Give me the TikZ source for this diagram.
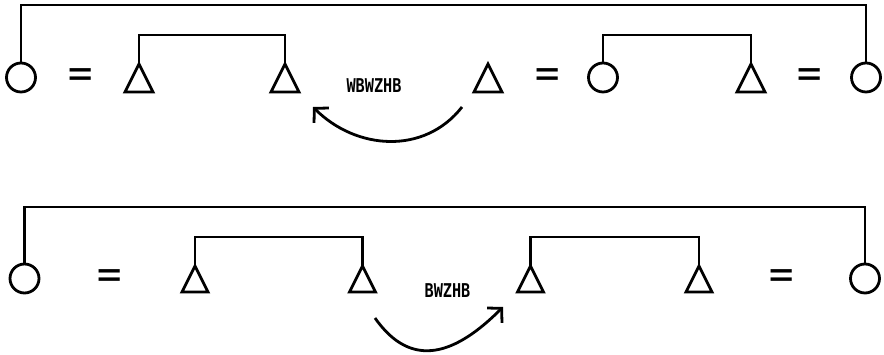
\documentclass[tikz,border=0pt]{standalone}
\usepackage{fontspec}
\usetikzlibrary{shapes.geometric,arrows.meta}
\newfontfamily\labelfont{DejaVu Sans Mono}
\newfontfamily\eqfont{DejaVu Sans}
\begin{document}
\begin{tikzpicture}[x=1pt,y=1pt,
  wire/.style={line width=2.8pt, line join=miter},
  ring/.style={draw, circle, line width=2.8pt, minimum size=29pt, inner sep=0pt, outer sep=0pt},
  tri/.style={draw, isosceles triangle, isosceles triangle apex angle=53.13,
    shape border rotate=90, line width=2.8pt, minimum width=#1, minimum height=#1,
    inner sep=0pt, outer sep=0pt, anchor=apex},
  eqsign/.style={inner sep=0pt, font=\eqfont\fontsize{26}{26}\selectfont},
  tag/.style={inner sep=0pt, font=\labelfont\bfseries\fontsize{19}{19}\selectfont},
  barb/.style={-{Straight Barb[length=10pt,width=21pt]}}
]
\useasboundingbox (0,0) rectangle (884,355);

% ---------- upper equation ----------
\node[ring] (c1) at (21,277.5) {};
\node[eqsign] (e1) at (80.5,276.5) {\scalebox{1.3}[1.6]{=}};
\node[tri=28pt] (t1) at (139,291) {};
\node[tri=28pt] (t2) at (285,291) {};
\node[tag] (l1) at (374,269.5) {\scalebox{0.8}[1]{WBWZHB}};
\node[tri=28pt] (t3) at (488,291) {};
\node[eqsign] (e2) at (547.5,276.5) {\scalebox{1.3}[1.6]{=}};
\node[ring] (c4) at (603,277.5) {};
\node[tri=28pt] (t5) at (751,291) {};
\node[eqsign] (e3) at (810,276.5) {\scalebox{1.3}[1.6]{=}};
\node[ring] (c6) at (866,277.5) {};

\coordinate (top1) at (0,350);
\coordinate (mid1) at (0,320);
\draw[wire] (c1.north) -- (c1.north |- top1) -- (c6.north |- top1) -- (c6.north);
\draw[wire] (t1.apex) -- (t1.apex |- mid1) -- (t2.apex |- mid1) -- (t2.apex);
\draw[wire] (c4.north) -- (c4.north |- mid1) -- (t5.apex |- mid1) -- (t5.apex);

\coordinate (a1s) at (462,248);
\coordinate (a1e) at (313,248);
\draw[wire, barb] (a1s) to[out=232, in=-45, looseness=1.05] (a1e);

% ---------- lower equation ----------
\node[ring] (c7) at (24.5,76.5) {};
\node[eqsign] (e4) at (110,76) {\scalebox{1.3}[1.6]{=}};
\node[tri=26pt] (t7) at (195,89) {};
\node[tri=26pt] (t8) at (362.5,89) {};
\node[tag] (l2) at (447.5,64) {\scalebox{0.8}[1]{BWZHB}};
\node[tri=26pt] (t9) at (530.5,89) {};
\node[tri=26pt] (t10) at (699,89) {};
\node[eqsign] (e5) at (781.7,76) {\scalebox{1.3}[1.6]{=}};
\node[ring] (c12) at (865,76.5) {};

\coordinate (top2) at (0,148);
\coordinate (mid2) at (0,118);
\draw[wire] (c7.north) -- (c7.north |- top2) -- (c12.north |- top2) -- (c12.north);
\draw[wire] (t7.apex) -- (t7.apex |- mid2) -- (t8.apex |- mid2) -- (t8.apex);
\draw[wire] (t9.apex) -- (t9.apex |- mid2) -- (t10.apex |- mid2) -- (t10.apex);

\coordinate (a2s) at (375,37);
\coordinate (a2e) at (503,48);
\draw[wire, barb] (a2s) to[out=-55, in=225, looseness=1.3] (a2e);
\end{tikzpicture}
\end{document}
